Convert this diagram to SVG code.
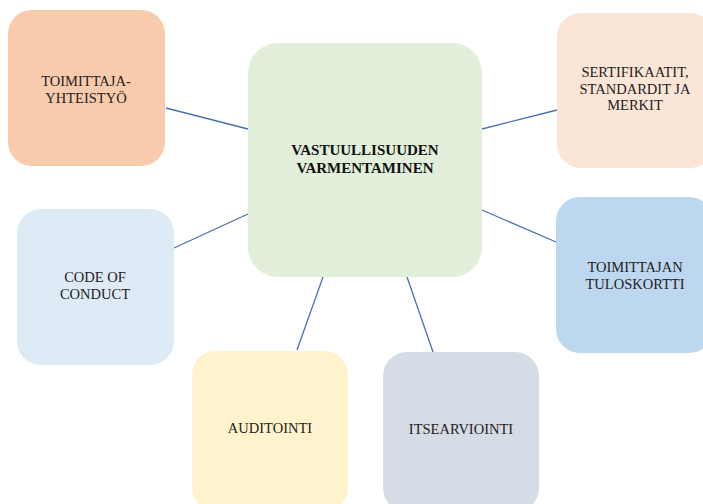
<svg xmlns="http://www.w3.org/2000/svg" width="703" height="504" viewBox="0 0 703 504">
<style>
text{font-family:'Liberation Serif','DejaVu Serif','Times New Roman',serif;font-size:14.5px;fill:#222;text-anchor:middle}
.b{font-weight:bold;font-size:15px;fill:#111}
.c line{stroke:#4a6fb5;stroke-width:1.3}
</style>
<rect width="703" height="504" fill="#fff"/>
<g class="c" id="connectors">
<line x1="166" y1="108" x2="248" y2="129"/>
<line x1="482" y1="129" x2="557" y2="110"/>
<line x1="482" y1="210" x2="556" y2="242"/>
<line x1="174" y1="248" x2="248" y2="214"/>
<line x1="323" y1="277" x2="297" y2="350"/>
<line x1="407" y1="277" x2="433" y2="352"/>
</g>
<g id="center">
<rect x="248" y="43" width="234" height="234" rx="30" fill="#e2efda"/>
<text class="b" x="365" y="155">VASTUULLISUUDEN</text>
<text class="b" x="365" y="172.5">VARMENTAMINEN</text>
</g>
<g id="toimittajayhteistyo">
<rect x="8" y="10" width="157" height="156" rx="24" fill="#f8cbad"/>
<text x="86" y="86">TOIMITTAJA-</text>
<text x="86" y="102.5">YHTEISTYÖ</text>
</g>
<g id="sertifikaatit">
<rect x="557" y="13" width="157" height="155" rx="24" fill="#fbe5d6"/>
<text x="635" y="77">SERTIFIKAATIT,</text>
<text x="635" y="93.5">STANDARDIT JA</text>
<text x="635" y="110">MERKIT</text>
</g>
<g id="tuloskortti">
<rect x="556" y="197" width="157" height="156" rx="24" fill="#bdd7ee"/>
<text x="635" y="272">TOIMITTAJAN</text>
<text x="635" y="288.5">TULOSKORTTI</text>
</g>
<g id="codeofconduct">
<rect x="17" y="209" width="157" height="156" rx="24" fill="#deebf7"/>
<text x="95" y="282">CODE OF</text>
<text x="95" y="298.5">CONDUCT</text>
</g>
<g id="auditointi">
<rect x="192" y="351" width="156" height="160" rx="24" fill="#fff2cc"/>
<text x="270" y="433">AUDITOINTI</text>
</g>
<g id="itsearviointi">
<rect x="383" y="352" width="156" height="160" rx="24" fill="#d6dce5"/>
<text x="461" y="434">ITSEARVIOINTI</text>
</g>
</svg>
